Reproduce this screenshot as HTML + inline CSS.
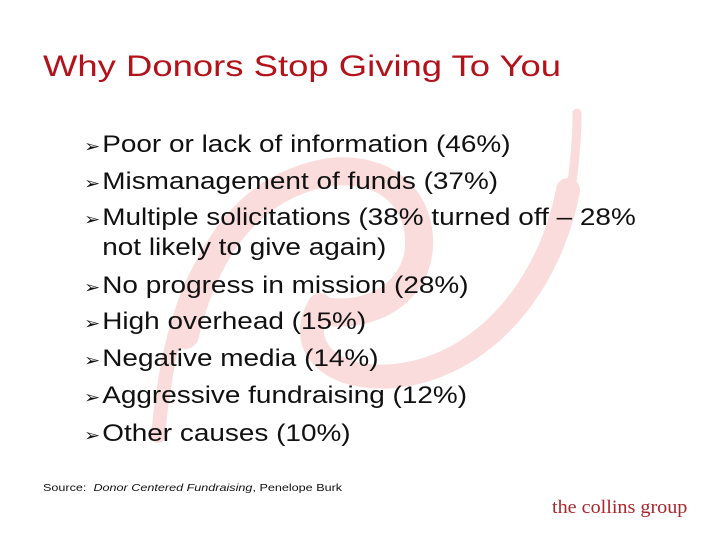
<!DOCTYPE html>
<html><head><meta charset="utf-8"><style>
body{margin:0;background:#fff}
#s{position:relative;width:720px;height:540px;overflow:hidden;background:#fff;font-family:"Liberation Sans",Arial,sans-serif}
.t{position:absolute;left:43px;top:50px;font-size:30px;color:#b3121b;transform:scaleX(1.215);transform-origin:left top;white-space:nowrap}
.l{position:absolute;left:84px;font-size:24.5px;color:#111;line-height:28px;white-space:nowrap;transform:scaleX(1.14);transform-origin:left top}
.l .a{display:inline-block;width:16px;font-size:17px}
.src{position:absolute;left:43px;top:482px;font-size:10.5px;color:#111;white-space:nowrap;transform:scaleX(1.2);transform-origin:left top}
.logo{position:absolute;left:552px;top:497px;font-family:"Liberation Serif",serif;font-size:19px;color:#a9262b;white-space:nowrap;transform:scaleX(1.06);transform-origin:left top}
</style></head><body>
<div id="s">
<svg width="720" height="540" style="position:absolute;left:0;top:0">
<g fill="none" stroke="#fadcdc" stroke-linecap="round">
<path d="M158,436 C165,360 180,300 205,260" stroke-width="14"/>
<path d="M185,335 C205,250 250,185 330,172 C400,165 425,215 418,255 C410,300 360,320 320,310" stroke-width="28"/>
<path d="M320,305 C295,345 330,382 395,376 C485,366 550,285 568,190" stroke-width="24"/>
<path d="M566,215 C574,180 577,140 577,113" stroke-width="9"/>
</g></svg>
<div class="t">Why Donors Stop Giving To You</div>
<div class="l" style="top:131px"><span class="a">➢</span>Poor or lack of information (46%)</div>
<div class="l" style="top:168px"><span class="a">➢</span>Mismanagement of funds (37%)</div>
<div class="l" style="top:204px"><span class="a">➢</span>Multiple solicitations (38% turned off – 28%<br><span class="a"></span>not likely to give again)</div>
<div class="l" style="top:272px"><span class="a">➢</span>No progress in mission (28%)</div>
<div class="l" style="top:308px"><span class="a">➢</span>High overhead (15%)</div>
<div class="l" style="top:345px"><span class="a">➢</span>Negative media (14%)</div>
<div class="l" style="top:382px"><span class="a">➢</span>Aggressive fundraising (12%)</div>
<div class="l" style="top:420px"><span class="a">➢</span>Other causes (10%)</div>
<div class="src">Source:&nbsp; <i>Donor Centered Fundraising</i>, Penelope Burk</div>
<div class="logo">the collins group</div>
</div>
</body></html>
